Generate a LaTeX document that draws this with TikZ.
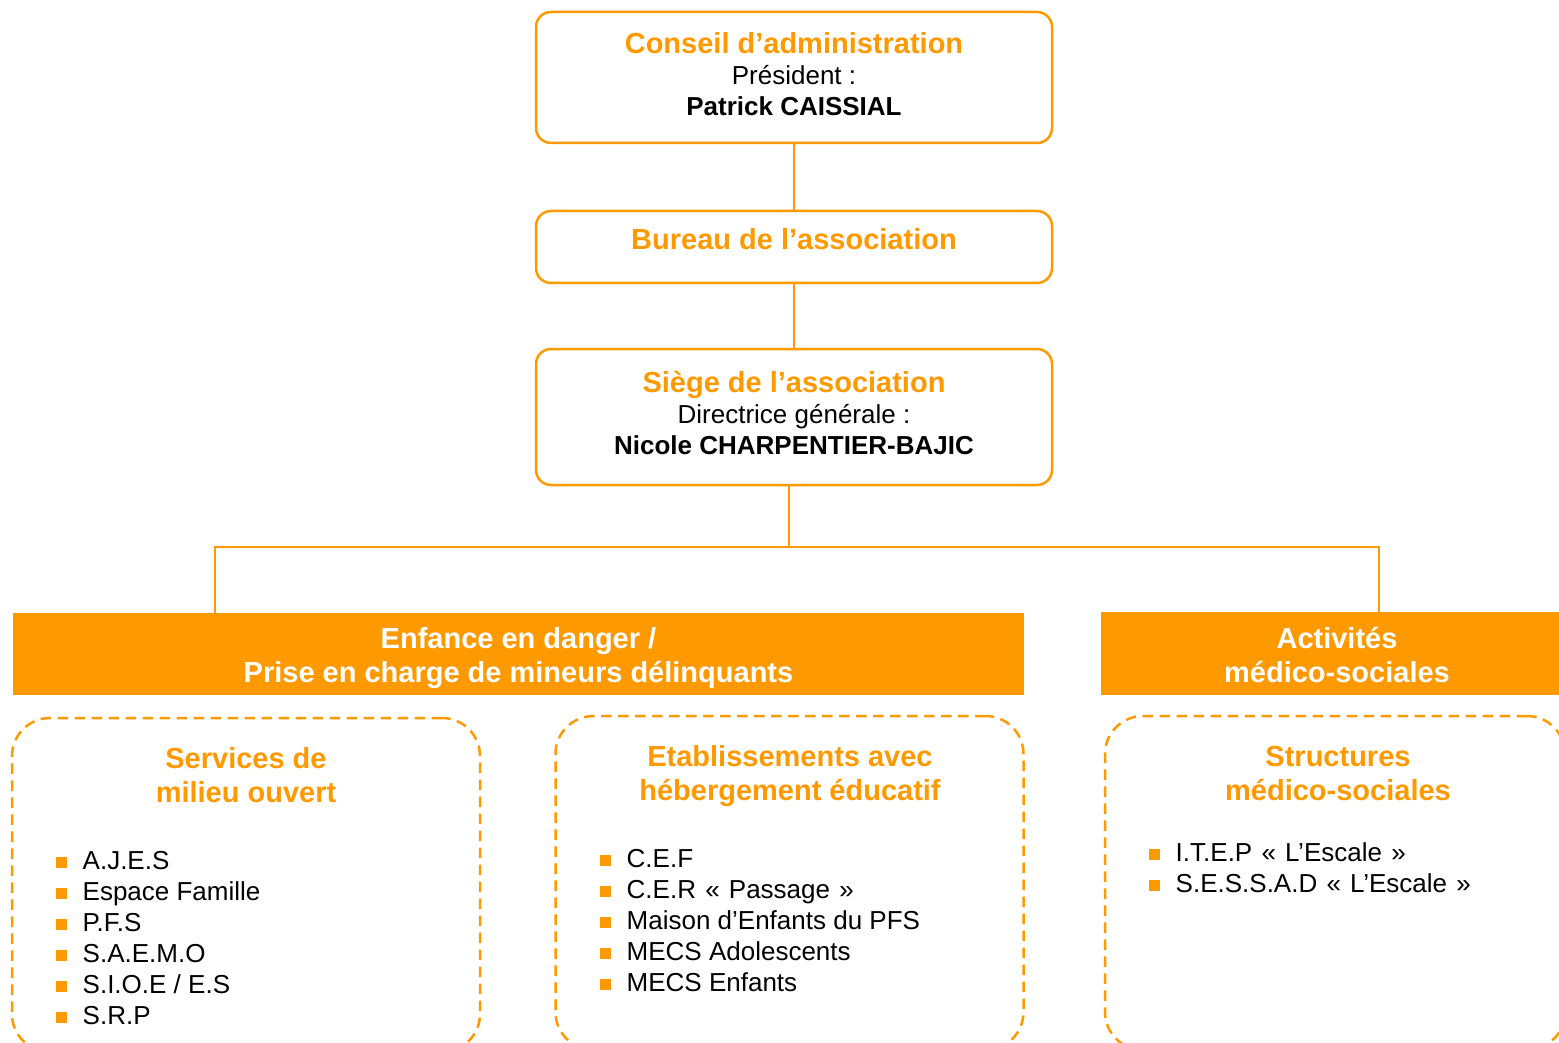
\documentclass[tikz,border=0pt]{standalone}
\usepackage{fontspec}
\setmainfont{Liberation Sans}
\definecolor{orangeasso}{RGB}{255,153,0}
\def\titre{\fontsize{29}{34}\selectfont\bfseries}
\def\texte{\fontsize{26}{31}\selectfont}
\def\puce{\textcolor{orangeasso}{\rule[1.5pt]{10.5pt}{10.5pt}}\hspace{16pt}}
\def\guil#1{\hspace{2pt}«\hspace{2pt} #1\hspace{2pt} »}

\begin{document}
\begin{tikzpicture}[x=1pt,y=-1pt,
	cadre/.style={draw=orangeasso, line width=2.5pt, rounded corners=15pt, minimum width=516pt, align=center, inner sep=0pt, font=\texte},
	bandeau/.style={fill=orangeasso, text=white, align=center, inner sep=0pt, font=\titre, text height=62pt, text depth=5pt},
	pointille/.style={draw=orangeasso, line width=2.5pt, dash pattern=on 10.5pt off 6.5pt, rounded corners=38pt, minimum width=468pt, minimum height=334pt, inner sep=0pt},
	soustitre/.style={text=orangeasso, align=center, font=\titre, anchor=base},
	liste/.style={anchor=base west, inner sep=0pt, font=\texte},
	lien/.style={draw=orangeasso, line width=1.5pt}]
			%%%%% START %%%%%
			
			\useasboundingbox (0,0) rectangle (1559,1043);
			\clip (0,0) rectangle (1559,1043);
			
			\node[cadre, minimum height=131pt, text height=83pt, text depth=6pt] (conseil) at (794,77.5) {{\titre\color{orangeasso}Conseil d’administration}\\Président :\\\textbf{Patrick CAISSIAL}};
			\node[cadre, minimum height=72pt, text height=21pt, text depth=15pt] (bureau) at (794,247) {\titre\color{orangeasso}Bureau de l’association};
			\node[cadre, minimum height=136pt, text height=80pt, text depth=6pt] (siege) at (794,417) {{\titre\color{orangeasso}Siège de l’association}\\Directrice générale :\\\textbf{Nicole CHARPENTIER-BAJIC}};
			
			\node[bandeau, minimum width=1011pt, minimum height=82pt] (enfance) at (518.5,654) {Enfance en danger /\\Prise en charge de mineurs délinquants};
			\node[bandeau, minimum width=472pt, minimum height=83pt] (activites) at (1337,653.5) {Activités\\médico-sociales};
			
			\coordinate (noeud) at (789,547);
			\coordinate (brancheG) at (215,613);
			\coordinate (brancheD) at (1379,612);
			\draw[lien] (conseil) -- (bureau);
			\draw[lien] (bureau) -- (siege);
			\draw[lien] (siege.south -| noeud) -- (noeud) -| (brancheG);
			\draw[lien] (noeud) -| (brancheD);
			
			\node[pointille] (milieu) at (246,885) {};
			\node[pointille] (hebergement) at (789.5,883) {};
			\node[pointille, minimum width=460pt] (structures) at (1335,883) {};
			
			\node[soustitre] (t-milieu) at (246,802) {Services de\\milieu ouvert};
			\node[soustitre] (t-hebergement) at (790,800) {Etablissements avec\\hébergement éducatif};
			\node[soustitre] (t-structures) at (1338,800) {Structures\\médico-sociales};
			
			\node[liste] (ajes) at (56,869) {\puce A.J.E.S};
			\node[liste] (espace) at (56,900) {\puce Espace Famille};
			\node[liste] (pfs) at (56,931) {\puce P.F.S};
			\node[liste] (saemo) at (56,962) {\puce S.A.E.M.O};
			\node[liste] (sioe) at (56,993) {\puce S.I.O.E / E.S};
			\node[liste] (srp) at (56,1024) {\puce S.R.P};
			
			\node[liste] (cef) at (600,867) {\puce C.E.F};
			\node[liste] (cer) at (600,898) {\puce C.E.R \guil{Passage}};
			\node[liste] (maison) at (600,929) {\puce Maison d’Enfants du PFS};
			\node[liste] (ado) at (600,960) {\puce MECS Adolescents};
			\node[liste] (enfants) at (600,991) {\puce MECS Enfants};
			
			\node[liste] (itep) at (1149,861) {\puce I.T.E.P \guil{L’Escale}};
			\node[liste] (sessad) at (1149,892) {\puce S.E.S.S.A.D \guil{L’Escale}};
			
			%%%%% END %%%%%
\end{tikzpicture}
\end{document}
